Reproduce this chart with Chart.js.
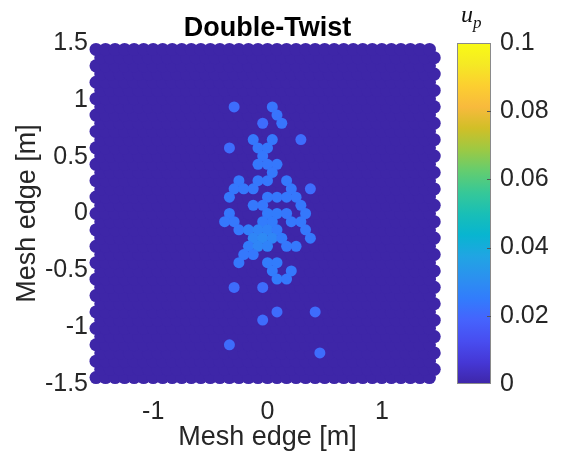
<!DOCTYPE html>
<html>
<head>
<meta charset="utf-8">
<script src="https://cdn.jsdelivr.net/npm/chart.js@4/dist/chart.umd.min.js"></script>
<style>
  html, body { margin: 0; padding: 0; background: #fff; }
</style>
</head>
<body>
<canvas id="mesh-chart" width="565" height="459"></canvas>
<script>
// mesh nodes with nonzero u_p (mesh edge coords in m)
const cellX = [
  -0.292, 0.042, 0.083, 0.125, -0.042, 0.292, -0.333, -0.125, 0.042, -0.083,
  0.000, -0.042, -0.083, 0.000, 0.083, 0.042, -0.083, 0.000, -0.250, 0.167,
  -0.292, -0.208, -0.125, 0.208, 0.375, -0.333, 0.000, 0.083, 0.167, 0.250,
  -0.125, -0.042, 0.292, -0.333, 0.000, 0.083, 0.167, 0.333, -0.375, -0.292,
  -0.042, 0.042, 0.208, 0.292, -0.250, -0.167, -0.083, 0.000, 0.083, 0.333,
  -0.125, -0.042, 0.042, 0.125, 0.375, -0.167, -0.083, 0.000, 0.167, 0.250,
  -0.208, -0.125, -0.250, 0.000, 0.083, 0.042, 0.208, 0.083, 0.167, -0.292,
  -0.042, 0.083, 0.417, -0.042, -0.333, 0.458
];
const cellY = [
  0.938, 0.938, 0.866, 0.794, 0.794, 0.650, 0.577, 0.650, 0.650, 0.577,
  0.577, 0.505, 0.433, 0.433, 0.433, 0.361, 0.289, 0.289, 0.289, 0.289,
  0.217, 0.217, 0.217, 0.217, 0.217, 0.144, 0.144, 0.144, 0.144, 0.144,
  0.072, 0.072, 0.072, 0.000, 0.000, 0.000, 0.000, 0.000, -0.072, -0.072,
  -0.072, -0.072, -0.072, -0.072, -0.144, -0.144, -0.144, -0.144, -0.144, -0.144,
  -0.217, -0.217, -0.217, -0.217, -0.217, -0.289, -0.289, -0.289, -0.289, -0.289,
  -0.361, -0.361, -0.433, -0.433, -0.433, -0.505, -0.505, -0.577, -0.577, -0.650,
  -0.650, -0.866, -0.866, -0.938, -1.155, -1.227
];
const cellU = [
  0.021, 0.023, 0.023, 0.023, 0.021, 0.021, 0.021, 0.024, 0.024, 0.024,
  0.024, 0.024, 0.024, 0.024, 0.024, 0.024, 0.024, 0.024, 0.024, 0.024,
  0.024, 0.024, 0.024, 0.024, 0.021, 0.024, 0.024, 0.024, 0.024, 0.024,
  0.024, 0.024, 0.024, 0.024, 0.025, 0.025, 0.024, 0.024, 0.024, 0.024,
  0.025, 0.025, 0.024, 0.024, 0.024, 0.026, 0.027, 0.027, 0.025, 0.024,
  0.028, 0.029, 0.028, 0.025, 0.024, 0.025, 0.028, 0.027, 0.024, 0.024,
  0.024, 0.024, 0.024, 0.025, 0.025, 0.025, 0.024, 0.025, 0.024, 0.021,
  0.021, 0.021, 0.021, 0.021, 0.021, 0.021
];

const xTicks = [-1, 0, 1];
const yTicks = [-1.5, -1, -0.5, 0, 0.5, 1, 1.5];
const cbTicks = [0, 0.02, 0.04, 0.06, 0.08, 0.1];
const U_MAX = 0.1;

// hex mesh over the square, every node starts at u_p = 0
const MESH_STEP = 1 / 12;
const MESH_COLS = 36;
const MESH_HALF_ROWS = 20;

// parula, every 4th entry of the 64 colour table
const PARULA = [
  [0.2422, 0.1504, 0.6603], [0.2706, 0.2147, 0.8364], [0.2813, 0.3006, 0.9414],
  [0.2699, 0.3892, 0.9906], [0.1963, 0.4847, 0.9892], [0.1687, 0.5703, 0.9359],
  [0.1248, 0.6459, 0.8883], [0.0297, 0.7082, 0.8163], [0.0964, 0.7500, 0.7120],
  [0.2161, 0.7843, 0.5923], [0.3909, 0.8029, 0.4354], [0.6174, 0.7876, 0.2612],
  [0.8203, 0.7498, 0.1535], [0.9728, 0.7298, 0.2394], [0.9892, 0.8136, 0.1885],
  [0.9597, 0.9135, 0.1423], [0.9769, 0.9839, 0.0805]
];

function rgb(c) {
  return `rgb(${Math.round(c[0] * 255)},${Math.round(c[1] * 255)},${Math.round(c[2] * 255)})`;
}

function parula(v) {
  const t = Math.min(Math.max(v / U_MAX, 0), 1) * (PARULA.length - 1);
  const i = Math.min(Math.floor(t), PARULA.length - 2);
  const f = t - i;
  const a = PARULA[i], b = PARULA[i + 1];
  return rgb([0, 1, 2].map(k => a[k] + (b[k] - a[k]) * f));
}

function meshNodes() {
  const dy = MESH_STEP * Math.sqrt(3) / 2;
  const nodes = [];
  for (let k = -MESH_HALF_ROWS; k <= MESH_HALF_ROWS; k++) {
    const shift = Math.abs(k) % 2 ? 0.5 : 0;
    for (let i = 0; i < MESH_COLS; i++) {
      nodes.push({ x: (i - MESH_COLS / 2 + shift) * MESH_STEP, y: k * dy });
    }
  }
  return nodes;
}

// fixed box sizes, no extra room for overhanging tick labels
function fixBox(size) {
  return s => {
    if (s.isHorizontal()) s.height = size; else s.width = size;
    s.paddingTop = s.paddingBottom = s.paddingLeft = s.paddingRight = 0;
  };
}

const FONT = "'Liberation Sans', Arial, Helvetica, sans-serif";
const TEXT = '#262626';

const colorbar = {
  id: 'colorbar',
  afterDraw(chart) {
    const { ctx } = chart;
    const cb = chart.scales.cb;
    const top = cb.getPixelForValue(U_MAX);
    const bot = cb.getPixelForValue(0);
    const left = 457, w = 34;
    ctx.save();
    const g = ctx.createLinearGradient(0, bot, 0, top);
    PARULA.forEach((c, i) => g.addColorStop(i / (PARULA.length - 1), rgb(c)));
    ctx.fillStyle = g;
    ctx.fillRect(left, top, w, bot - top);
    ctx.strokeStyle = '#8a8a8a';
    ctx.lineWidth = 1;
    ctx.strokeRect(left + 0.5, top + 0.5, w - 1, bot - top - 1);
    ctx.strokeStyle = '#555';
    cbTicks.slice(1, -1).forEach(v => {
      const y = Math.round(cb.getPixelForValue(v)) + 0.5;
      ctx.beginPath();
      ctx.moveTo(left + w - 4, y);
      ctx.lineTo(left + w, y);
      ctx.stroke();
    });
    ctx.fillStyle = '#111';
    ctx.textBaseline = 'alphabetic';
    ctx.font = "italic 24px 'Liberation Serif', 'DejaVu Serif', serif";
    ctx.fillText('u', 461, 22);
    ctx.font = "italic 17px 'Liberation Serif', 'DejaVu Serif', serif";
    ctx.fillText('p', 473, 28);
    ctx.restore();
  }
};

new Chart(document.getElementById('mesh-chart'), {
  type: 'scatter',
  data: {
    datasets: [
      {
        label: 'mesh',
        data: meshNodes(),
        order: 1,
        pointBackgroundColor: parula(0),
        pointRadius: 6.5,
        pointHoverRadius: 6.5,
        pointBorderWidth: 0,
        clip: false
      },
      {
        label: 'u_p',
        data: cellX.map((x, i) => ({ x, y: cellY[i] })),
        order: 0,
        pointBackgroundColor: cellU.map(parula),
        pointRadius: 5.5,
        pointHoverRadius: 5.5,
        pointBorderWidth: 0,
        clip: false
      }
    ]
  },
  options: {
    responsive: false,
    animation: false,
    events: [],
    layout: { padding: 0 },
    plugins: {
      legend: { display: false },
      tooltip: { enabled: false },
      title: {
        display: true,
        text: 'Double-Twist',
        fullSize: false,
        color: '#000',
        font: { family: FONT, size: 27, weight: 'bold', lineHeight: 1 },
        padding: { top: 15, bottom: 1 }
      }
    },
    scales: {
      x: {
        type: 'linear',
        min: -1.5,
        max: 1.5,
        afterBuildTicks: s => { s.ticks = xTicks.map(value => ({ value })); },
        afterFit: fixBox(75),
        grid: { display: false, drawTicks: false },
        border: { display: false },
        ticks: { color: TEXT, font: { family: FONT, size: 25 }, padding: 13, callback: v => String(v) },
        title: { display: true, text: 'Mesh edge [m]', color: TEXT, font: { family: FONT, size: 27 }, padding: { bottom: 5 } }
      },
      y: {
        type: 'linear',
        min: -1.5,
        max: 1.5,
        afterBuildTicks: s => { s.ticks = yTicks.map(value => ({ value })); },
        afterFit: fixBox(96),
        grid: { display: false, drawTicks: false },
        border: { display: false },
        ticks: { color: TEXT, font: { family: FONT, size: 25 }, padding: 8, callback: v => String(v) },
        title: { display: true, text: 'Mesh edge [m]', color: TEXT, font: { family: FONT, size: 27 }, padding: { top: 11 } }
      },
      cb: {
        type: 'linear',
        position: 'right',
        min: 0,
        max: U_MAX,
        afterBuildTicks: s => { s.ticks = cbTicks.map(value => ({ value })); },
        afterFit: fixBox(126),
        grid: { display: false, drawTicks: false },
        border: { display: false },
        ticks: { color: TEXT, font: { family: FONT, size: 25 }, padding: 61, callback: v => String(v) }
      }
    }
  },
  plugins: [colorbar]
});
</script>
</body>
</html>
